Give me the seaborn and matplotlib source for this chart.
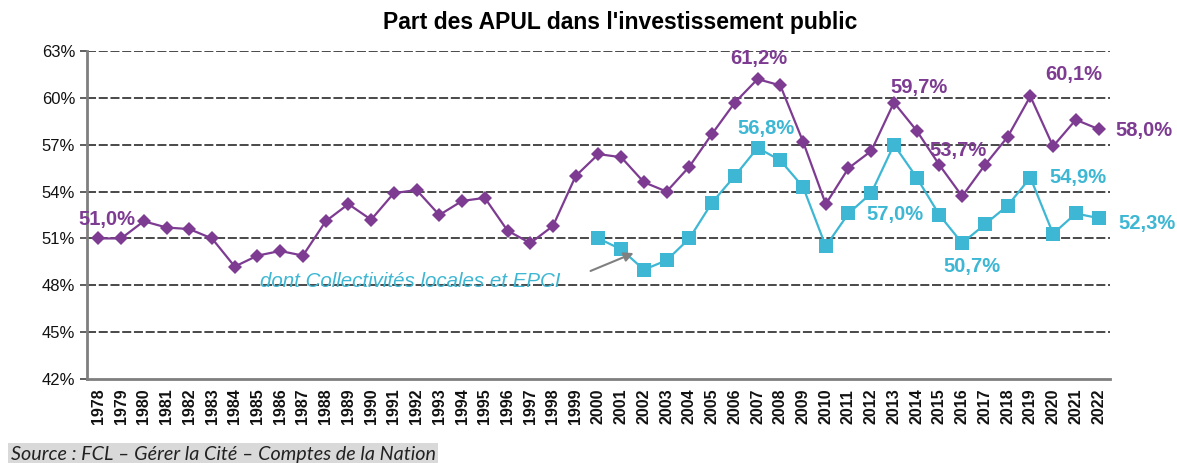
import pandas as pd
import numpy as np
from matplotlib import pyplot as plt
import seaborn as sns

years = list(range(1978, 2023))
apul = [51.0, 51.0, 52.1, 51.7, 51.6, 51.0, 49.2, 49.9, 50.2, 49.9,
        52.1, 53.2, 52.2, 53.9, 54.1, 52.5, 53.4, 53.6, 51.5, 50.7,
        51.8, 55.0, 56.4, 56.2, 54.6, 54.0, 55.6, 57.7, 59.7, 61.2,
        60.8, 57.2, 53.2, 55.5, 56.6, 59.7, 57.9, 55.7, 53.7, 55.7,
        57.5, 60.1, 56.9, 58.6, 58.0]
coll_years = list(range(2000, 2023))
coll = [51.0, 50.3, 49.0, 49.6, 51.0, 53.3, 55.0, 56.8, 56.0, 54.3,
        50.5, 52.6, 53.9, 57.0, 54.9, 52.5, 50.7, 51.9, 53.1, 54.9,
        51.3, 52.6, 52.3]
yticks = [42, 45, 48, 51, 54, 57, 60, 63]

# labelled points: (year, text, offset in points)
apul_labels = [(1978, "51,0%", (6, 14)), (2007, "61,2%", (1, 15)),
               (2013, "59,7%", (18, 11)), (2016, "53,7%", (-3, 33)),
               (2019, "60,1%", (31, 16)), (2022, "58,0%", (33, -1))]
coll_labels = [(2007, "56,8%", (6, 14)), (2013, "57,0%", (1, -50)),
               (2016, "50,7%", (7, -17)), (2019, "54,9%", (34, 0)),
               (2022, "52,3%", (35, -4))]

purple = "#7D3C92"
blue = "#3DB7D3"

sns.set_theme(style="white")
plt.rcParams['font.family'] = ['Liberation Sans', 'DejaVu Sans']
plt.rcParams['text.color'] = "black"

fig = plt.figure(figsize=(11.77, 4.63), dpi=100)
ax = fig.add_axes([0.0739, 0.1814, 0.8691, 0.7084])

df_apul = pd.DataFrame({"Année": years, "Part": apul})
df_coll = pd.DataFrame({"Année": coll_years, "Part": coll})

for y in yticks[1:]:
    ax.axhline(y, color="#3a3a3a", lw=1.3, ls=(0, (5, 1.5)), zorder=1)

sns.lineplot(data=df_apul, x="Année", y="Part", ax=ax, color=purple, lw=1.6,
             marker="D", markersize=7.5, markeredgewidth=0, zorder=3)
sns.lineplot(data=df_coll, x="Année", y="Part", ax=ax, color=blue, lw=1.6,
             marker="s", markersize=9.5, markeredgewidth=0, zorder=3)

for yr, txt, off in apul_labels:
    ax.annotate(txt, (yr, apul[years.index(yr)]), xytext=off, textcoords="offset points",
                ha="center", va="center", color=purple, fontsize=14.5, fontweight="bold")
for yr, txt, off in coll_labels:
    ax.annotate(txt, (yr, coll[coll_years.index(yr)]), xytext=off, textcoords="offset points",
                ha="center", va="center", color=blue, fontsize=14.5, fontweight="bold")

ax.text(1991.74, 48.25, "dont Collectivités locales et EPCI", color=blue, fontsize=14.8,
        style="italic", ha="center", va="center", zorder=4)
ax.annotate("", xy=(2001.66, 50.13), xytext=(1999.54, 48.85),
            arrowprops=dict(arrowstyle="-|>", color="#808080", lw=1.5, mutation_scale=14))

ax.set_xlim(1977.5, 2022.5)
ax.set_ylim(42, 63)
ax.set_yticks(yticks)
ax.set_yticklabels([f"{v}%" for v in yticks], fontsize=12, color="#111111")
ax.set_xticks(years)
ax.set_xticklabels([str(y) for y in years], rotation=90, fontsize=11.5, fontweight="bold",
                   color="#111111")
ax.set_xticks(np.arange(1977.5, 2023, 1), minor=True)
ax.tick_params(axis="x", which="major", length=0, pad=7)
ax.tick_params(axis="x", which="minor", length=5, width=1.2, color="#444444", direction="out")
ax.tick_params(axis="y", length=5, width=1.2, color="#444444", direction="out", left=True)
ax.set_xlabel("")
ax.set_ylabel("")

for s in ["top", "right"]:
    ax.spines[s].set_visible(False)
for s in ["left", "bottom"]:
    ax.spines[s].set_color("#7f7f7f")
    ax.spines[s].set_linewidth(2)

fig.text(0.527, 0.952, "Part des APUL dans l'investissement public", ha="center", va="center",
         fontsize=16.5, fontweight="bold")
fig.text(0.009, 0.006, "Source : FCL – Gérer la Cité – Comptes de la Nation",
         family=["Lato", "DejaVu Sans"], style="italic", fontsize=14.2, color="#222222",
         bbox=dict(facecolor="#d9d9d9", edgecolor="none", pad=2))

fig.savefig("out.png", dpi=100)
